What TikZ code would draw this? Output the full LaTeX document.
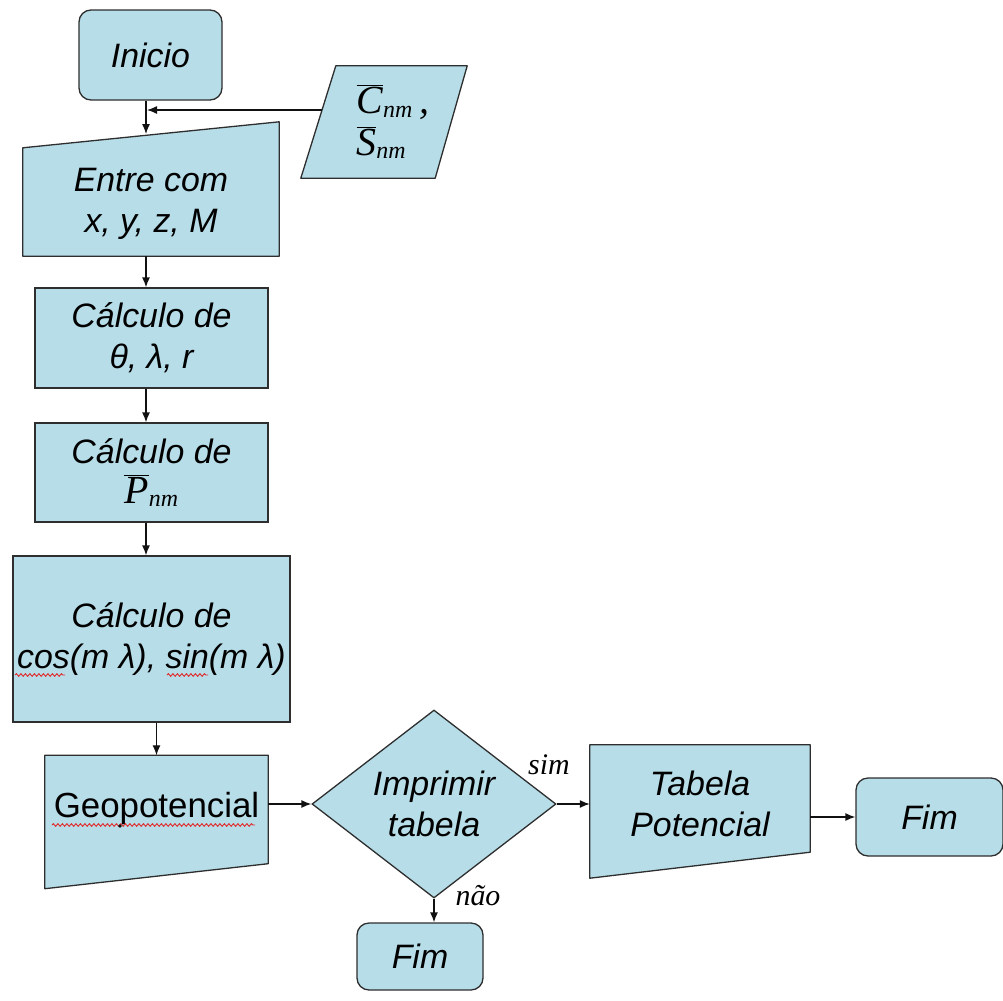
\documentclass[tikz,border=0pt]{standalone}
\usepackage{fontspec}
\setmainfont{Liberation Sans}
\newfontfamily\serifFont{Liberation Serif}
\usepackage{xcolor}
\usetikzlibrary{shapes.geometric}
\usetikzlibrary{backgrounds}
\usetikzlibrary{arrows.meta}
\usetikzlibrary{decorations.pathmorphing}
\definecolor{boxFillColor}{HTML}{B7DDE8}
\definecolor{boxLineColor}{HTML}{2E2E2E}
\definecolor{linkColor}{HTML}{111111}
\definecolor{waveColor}{HTML}{E02828}
\newcommand\barSym[1]{$\overline{\mbox{#1}}_{\mbox{\fontsize{24}{24}\selectfont nm}}$}
\def\textInicio{Inicio}
\def\textEntre{Entre com\\x, y, z, M}
\def\textTeta{Cálculo de\\θ, λ, r}
\def\textPnm{Cálculo de\\[-1bp]{\serifFont\fontsize{40}{40}\selectfont\barSym{P}}}
\def\textCos{Cálculo de\\cos(m λ), sin(m λ)}
\def\textGeo{\upshape\fontsize{35}{41}\selectfont Geopotencial}
\def\textDecisao{Imprimir\\tabela}
\def\textTabela{Tabela\\Potencial}
\def\textFim{Fim}
\def\textSim{sim}
\def\textNao{não}

\begin{document}
\begin{tikzpicture}[x=1bp,y=-1bp,
boxText/.style={font=\fontsize{34}{41}\selectfont\itshape, align=center, inner sep=0pt},
processBox/.style={boxText, draw=boxLineColor, fill=boxFillColor, line width=1.3bp},
terminalBox/.style={processBox, rounded corners=12bp},
shapeLine/.style={draw=boxLineColor, fill=boxFillColor, line width=1.3bp, line join=round},
linkArrow/.style={color=linkColor, line width=1.3bp, -{Latex[length=10bp,width=8bp]}},
spellWave/.style={color=waveColor, line width=0.9bp, decorate,
decoration={snake, amplitude=1.3bp, segment length=4.5bp}},
choiceText/.style={font=\serifFont\itshape\fontsize{30}{30}\selectfont, inner sep=0pt}]

\useasboundingbox (0,0) rectangle (1003,1001);

% main column
\begin{scope}
\node[terminalBox, minimum width=143bp, minimum height=90bp] (inicio) at (150.5, 55) {\textInicio};
\node[boxText, minimum width=166bp, minimum height=112bp,
label={[boxText, align=left, name=dadosTexto, xshift=9bp,
font=\serifFont\itshape\fontsize{40}{42}\selectfont]center:{\barSym{C}\,,\\\barSym{S}}}] (dados) at (384, 122) {};
\node[boxText, minimum width=256bp, minimum height=134bp,
label={[boxText, name=entreTexto, yshift=-15bp]center:\textEntre}] (entre) at (151, 189) {};
\node[processBox, minimum width=233bp, minimum height=100bp] (teta) at (151.5, 338) {\textTeta};
\node[processBox, minimum width=233bp, minimum height=99bp] (pnm) at (151.5, 472.5) {\textPnm};
\node[processBox, minimum width=277bp, minimum height=166bp] (cosseno) at (151.5, 639) {\textCos};
\end{scope}

% bottom row
\begin{scope}
\node[boxText, minimum width=223bp, minimum height=133bp,
label={[boxText, name=geoTexto, yshift=14bp]center:\textGeo}] (geo) at (156.5, 822) {};
\node[processBox, diamond, minimum width=244bp, minimum height=162bp] (decisao) at (434, 804) {\textDecisao};
\node[boxText, minimum width=220bp, minimum height=133bp,
label={[boxText, name=tabelaTexto, yshift=8bp]center:\textTabela}] (tabela) at (700, 811.5) {};
\node[terminalBox, minimum width=147bp, minimum height=78bp] (fimB) at (929.5, 817) {\textFim};
\node[terminalBox, minimum width=126bp, minimum height=67bp] (fimA) at (420, 956.5) {\textFim};
\node[choiceText] (sim) at (549, 765) {\textSim};
\node[choiceText] (nao) at (478, 896) {\textNao};
\end{scope}

% shape layer
\begin{scope}[on background layer]
\path[shapeLine] ([xshift=35bp]dados.north west) -- (dados.north east)
-- ([xshift=-32bp]dados.south east) -- (dados.south west) -- cycle;
\path[shapeLine] (entre.south west) -- (entre.south east) -- (entre.north east)
-- ([yshift=-26bp]entre.north west) -- cycle;
\path[shapeLine] (geo.north west) -- (geo.north east) -- ([yshift=25bp]geo.south east)
-- (geo.south west) -- cycle;
\path[shapeLine] (tabela.north west) -- (tabela.north east) -- ([yshift=26bp]tabela.south east)
-- (tabela.south west) -- cycle;
\end{scope}

% spell marks
\begin{scope}
\draw[spellWave] (15, 675) -- (65, 675);
\draw[spellWave] (167, 675) -- (208, 675);
\draw[spellWave] (52, 825) -- (255, 825);
\fill[linkColor] (120, 826) circle (1.8);
\end{scope}

% link layer
\begin{scope}
\coordinate (eixo) at (146, 0);
\coordinate (entreTopo) at (146, 134);
\coordinate (juncao) at (147, 110);
\coordinate (dadosSaida) at (322, 110);
\draw[linkArrow] (inicio.south -| eixo) -- (entreTopo);
\draw[linkArrow] (dadosSaida) -- (juncao);
\draw[linkArrow] (entre.south -| eixo) -- (teta.north -| eixo);
\draw[linkArrow] (teta.south -| eixo) -- (pnm.north -| eixo);
\draw[linkArrow] (pnm.south -| eixo) -- (cosseno.north -| eixo);
\draw[linkArrow] (geo.north |- cosseno.south) -- (geo.north);
\draw[linkArrow] (geo.east |- decisao.west) -- (decisao.west);
\draw[linkArrow] (decisao.east) -- (tabela.west |- decisao.east);
\draw[linkArrow] (tabela.east |- fimB.west) -- (fimB.west);
\draw[linkArrow] (decisao.south) -- (decisao.south |- fimA.north);
\end{scope}

\end{tikzpicture}
\end{document}
